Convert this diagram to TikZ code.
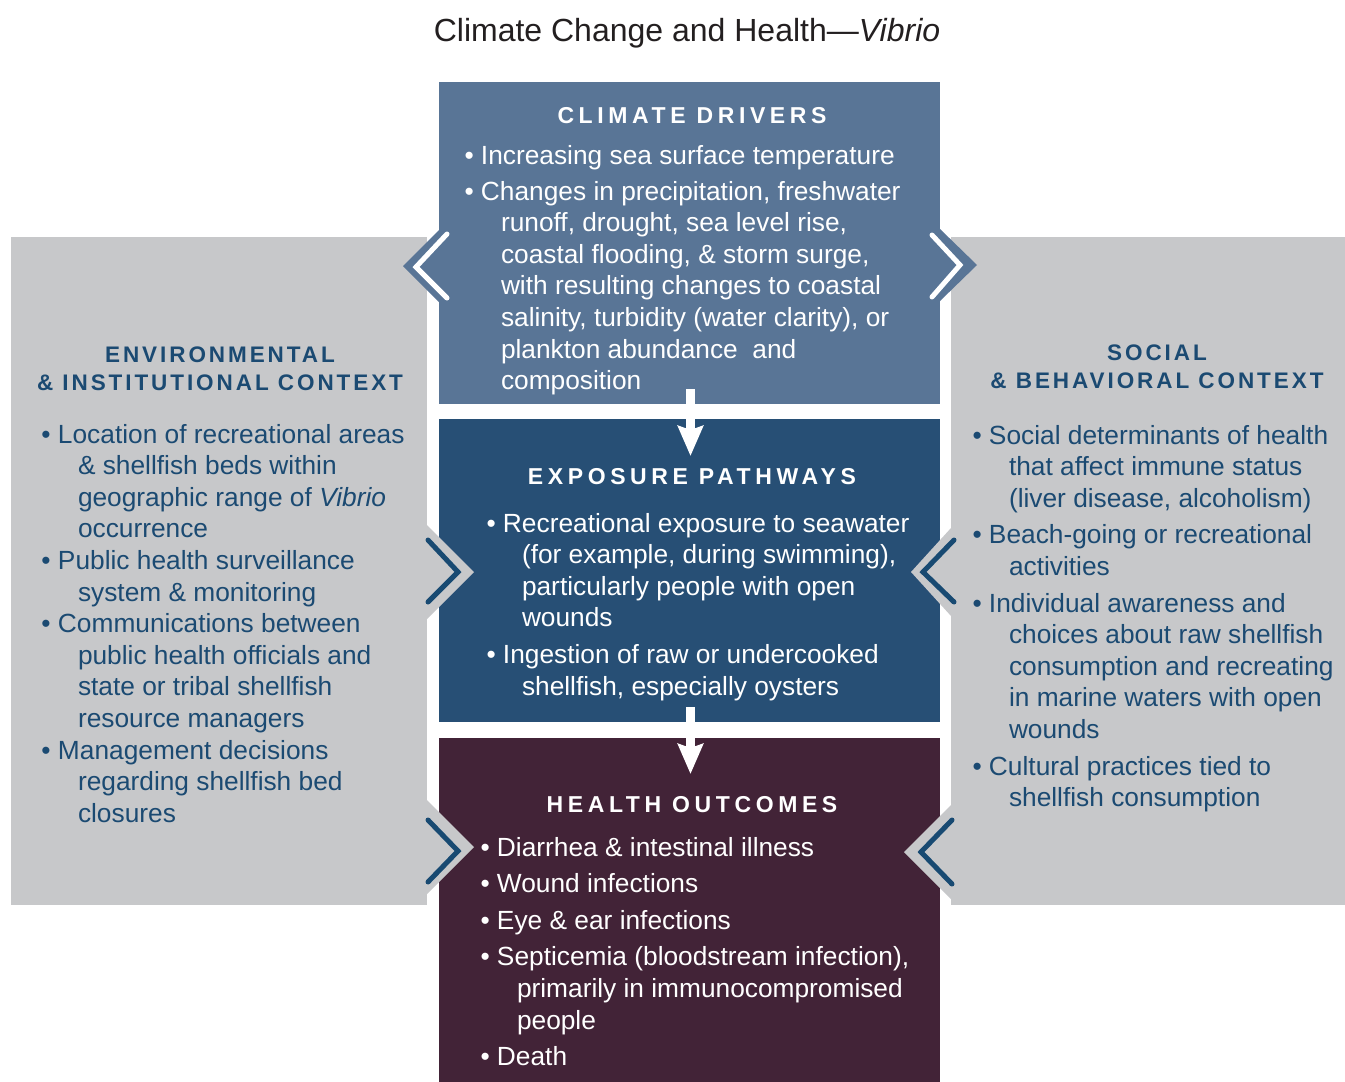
\documentclass[tikz,border=0pt]{standalone}
\usepackage{fontspec}
\setmainfont{Liberation Sans}
\newfontfamily\headfont[LetterSpace=20]{Liberation Sans}
\newfontfamily\sideheadfont[LetterSpace=13]{Liberation Sans}
\usetikzlibrary{arrows.meta}
\definecolor{topc}{RGB}{89,117,150}
\definecolor{midc}{RGB}{39,79,117}
\definecolor{botc}{RGB}{66,35,55}
\definecolor{grayc}{RGB}{199,200,202}
\definecolor{navyc}{RGB}{27,74,114}
\definecolor{chevc}{RGB}{24,74,114}
\definecolor{titlec}{RGB}{35,31,32}
\newcommand\bodyfs{\fontsize{26.3}{31.6}\selectfont}
\newcommand\headfs{\headfont\bfseries\fontsize{23}{28}\selectfont}
\newcommand\sideheadfs{\sideheadfont\bfseries\fontsize{22.5}{28}\selectfont}
\newcommand\contind{\hspace*{36.5pt}}
\begin{document}
\begin{tikzpicture}[x=1pt,y=-1pt,
  every node/.style={inner sep=0pt,outer sep=0pt},
  panel/.style={minimum width=#1,minimum height=668pt,fill=grayc},
  bodyst/.style={anchor=base west,font=\bodyfs},
  headst/.style={anchor=base,font=\headfs},
  sideheadst/.style={anchor=base,font=\sideheadfs,text=navyc},
  chevw/.style={draw=white,line width=5pt,line cap=round,line join=miter},
  chevd/.style={draw=chevc,line width=5pt,line cap=round,line join=miter},
  flowarrow/.style={draw=white,line width=9pt,-{Stealth[length=30pt,width=25pt,inset=4pt]}}]
\fill[white] (0,0) rectangle (1345,1082);
\path[use as bounding box] (0,0) rectangle (1345,1082);
% side panels
\node[panel=416pt] (envpanel) at (219,571) {};
\node[panel=394pt] (socpanel) at (1148,571) {};
% centre boxes
\node[fill=topc,minimum width=501pt,minimum height=322pt] (drivers) at (689.5,243) {};
\node[fill=midc,minimum width=501pt,minimum height=303pt] (exposure) at (689.5,570.5) {};
\node[fill=botc,minimum width=501pt,minimum height=344pt] (outcomes) at (689.5,910) {};
% chevron tabs of the climate drivers box
\fill[topc] (439,230) -- (403,266) -- (439,302) -- cycle;
\fill[topc] (940,229) -- (977,265) -- (940,301) -- cycle;
\draw[chevw] (447,234) -- (416,267) -- (447,298);
\draw[chevw] (932,235) -- (960,265) -- (932,297);
% chevron tabs of the context panels
\fill[grayc] (427,525) -- (474,572) -- (427,619) -- cycle;
\fill[grayc] (951,528) -- (911,572) -- (951,616) -- cycle;
\fill[grayc] (427,800) -- (474,847) -- (427,894) -- cycle;
\fill[grayc] (951,805) -- (904,852) -- (951,899) -- cycle;
\draw[chevd] (428,540) -- (458,572) -- (428,602);
\draw[chevd] (954,540) -- (923,572) -- (954,602);
\draw[chevd] (428,820) -- (458,851) -- (428,882);
\draw[chevd] (952,820) -- (921,852) -- (952,884);
% title
\node[anchor=base,font=\fontsize{32}{38}\selectfont,text=titlec] (title) at (687,41) {Climate Change and Health—\textit{Vibrio}};
% climate drivers
\node[headst,text=white] (drvhead) at (692,123) {CLIMATE DRIVERS};
\node[bodyst,text=white] (drvtext) at (464.5,164) {\begin{tabular}[t]{@{}l@{}}
• Increasing sea surface temperature\\[4.4pt]
• Changes in precipitation, freshwater\\
\contind runoff, drought, sea level rise,\\
\contind coastal flooding, \& storm surge,\\
\contind with resulting changes to coastal\\
\contind salinity, turbidity (water clarity), or\\
\contind plankton abundance\ \ and\\
\contind composition
\end{tabular}};
% exposure pathways
\node[headst,text=white] (exphead) at (692,484) {EXPOSURE PATHWAYS};
\node[bodyst,text=white] (exptext) at (486.5,532) {\begin{tabular}[t]{@{}l@{}}
• Recreational exposure to seawater\\
\hspace*{35.5pt}(for example, during swimming),\\
\hspace*{35.5pt}particularly people with open\\
\hspace*{35.5pt}wounds\\[5.4pt]
• Ingestion of raw or undercooked\\
\hspace*{35.5pt}shellfish, especially oysters
\end{tabular}};
% health outcomes
\node[headst,text=white] (outhead) at (692,812) {HEALTH OUTCOMES};
\node[bodyst,text=white] (outtext) at (480.5,856) {\begin{tabular}[t]{@{}l@{}}
• Diarrhea \& intestinal illness\\[5pt]
• Wound infections\\[5pt]
• Eye \& ear infections\\[5pt]
• Septicemia (bloodstream infection),\\
\contind primarily in immunocompromised\\
\contind people\\[5pt]
• Death
\end{tabular}};
% environmental & institutional context
\node[sideheadst] (envhead) at (220,362) {\begin{tabular}[t]{@{}c@{}}
ENVIRONMENTAL\\
\& INSTITUTIONAL CONTEXT
\end{tabular}};
\node[bodyst,text=navyc] (envtext) at (41.5,443) {\begin{tabular}[t]{@{}l@{}}
• Location of recreational areas\\
\contind \& shellfish beds within\\
\contind geographic range of \textit{Vibrio}\\
\contind occurrence\\
• Public health surveillance\\
\contind system \& monitoring\\
• Communications between\\
\contind public health officials and\\
\contind state or tribal shellfish\\
\contind resource managers\\
• Management decisions\\
\contind regarding shellfish bed\\
\contind closures
\end{tabular}};
% social & behavioral context
\node[sideheadst] (sochead) at (1157,360) {\begin{tabular}[t]{@{}c@{}}
SOCIAL\\
\& BEHAVIORAL CONTEXT
\end{tabular}};
\node[bodyst,text=navyc] (soctext) at (972.5,444) {\begin{tabular}[t]{@{}l@{}}
• Social determinants of health\\
\contind that affect immune status\\
\contind (liver disease, alcoholism)\\[5pt]
• Beach-going or recreational\\
\contind activities\\[5pt]
• Individual awareness and\\
\contind choices about raw shellfish\\
\contind consumption and recreating\\
\contind in marine waters with open\\
\contind wounds\\[5pt]
• Cultural practices tied to\\
\contind shellfish consumption
\end{tabular}};
% flow arrows
\coordinate (a1s) at (690.5,389);
\coordinate (a1e) at (690.5,456);
\coordinate (a2s) at (690.5,707);
\coordinate (a2e) at (690.5,774);
\draw[flowarrow] (a1s) -- (a1e);
\draw[flowarrow] (a2s) -- (a2e);
\end{tikzpicture}
\end{document}
